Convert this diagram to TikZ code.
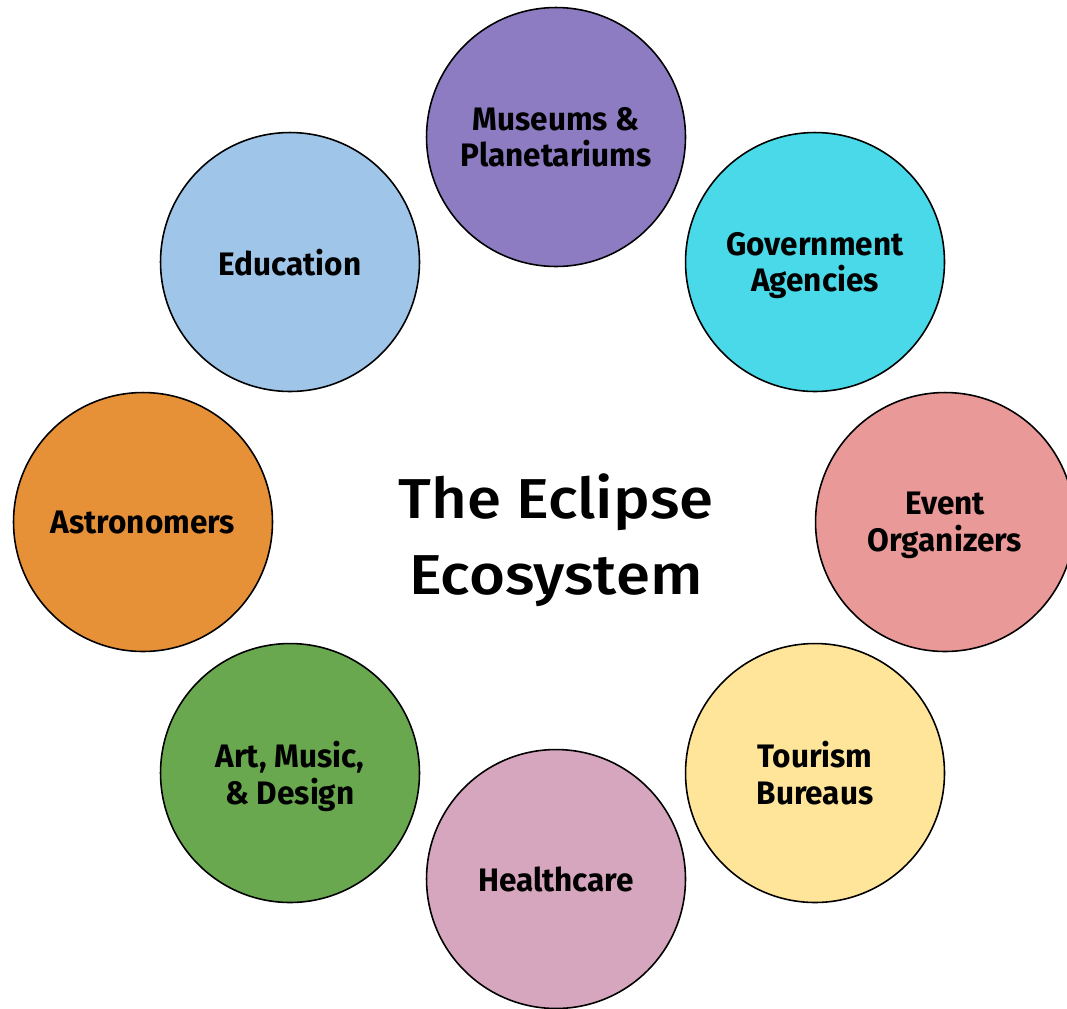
\documentclass[tikz,border=0pt]{standalone}
\usepackage{fontspec}
\setmainfont{Fira Sans}[FakeStretch=0.97]
\newfontfamily\titlefont{Fira Sans Medium}[FakeStretch=1.1]
\definecolor{museum}{HTML}{8E7CC3}
\definecolor{govt}{HTML}{4AD9E8}
\definecolor{event}{HTML}{EA9999}
\definecolor{tourism}{HTML}{FFE599}
\definecolor{health}{HTML}{D5A6BD}
\definecolor{art}{HTML}{6AA84F}
\definecolor{astro}{HTML}{E69138}
\definecolor{edu}{HTML}{9FC5E8}
\tikzset{
    bubble/.style={circle, draw=black, line width=0.9pt, minimum size=5.18cm,
        align=center, text depth=0pt,
        font=\bfseries\fontsize{18.5}{21}\selectfont}
}
\begin{document}
\begin{tikzpicture}[x=0.02cm, y=-0.02cm]
            \useasboundingbox (0,0) rectangle (1067,1008);
            \node[bubble, fill=museum] (museums) at (556,137) {Museums \&\\Planetariums};
            \node[bubble, fill=govt] (govt) at (815,262) {Government\\Agencies};
            \node[bubble, fill=event] (events) at (945,522) {Event\\Organizers};
            \node[bubble, fill=tourism] (tourism) at (815,773) {Tourism\\Bureaus};
            \node[bubble, fill=health] (health) at (556,879) {Healthcare};
            \node[bubble, fill=art] (art) at (290,773) {Art, Music,\\\& Design};
            \node[bubble, fill=astro] (astro) at (143,522) {Astronomers};
            \node[bubble, fill=edu] (edu) at (290,262) {Education};

            \node[align=center, font=\titlefont\fontsize{32}{43}\selectfont] (title) at (556,540) {The Eclipse\\Ecosystem};
        \end{tikzpicture}
\end{document}
